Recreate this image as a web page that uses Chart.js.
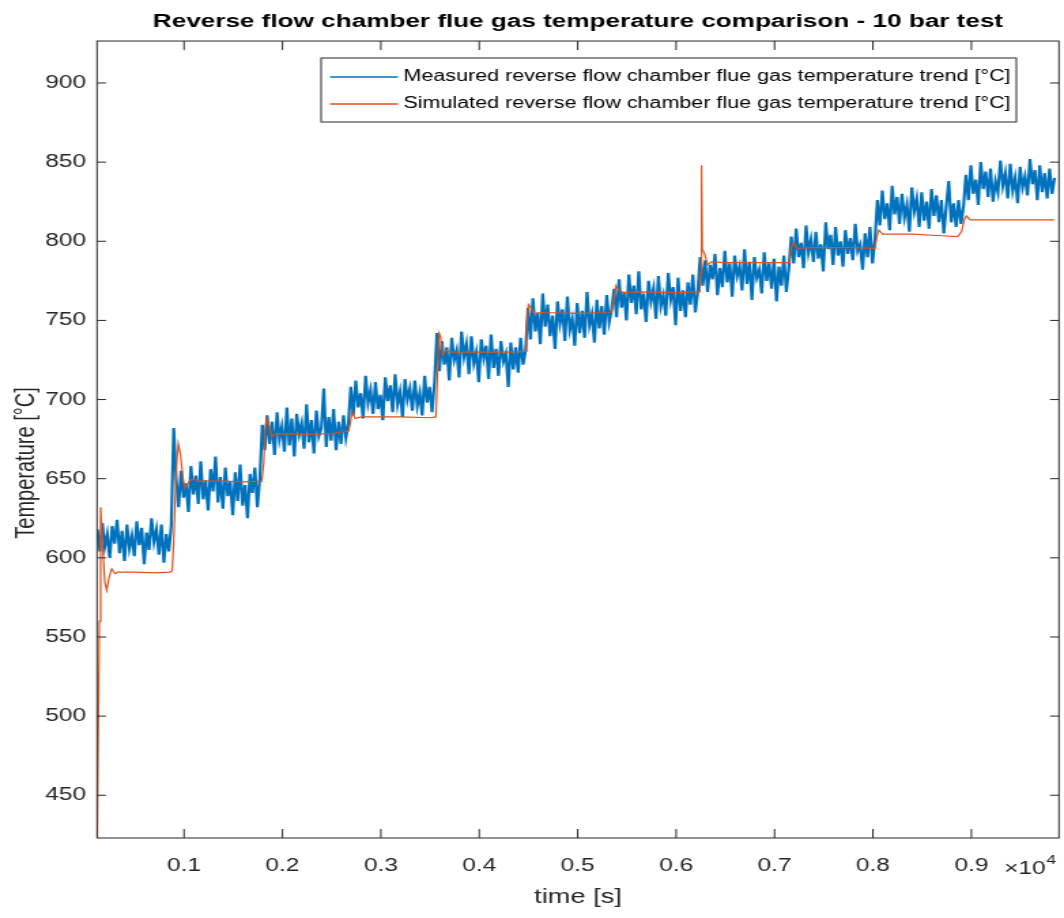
<!DOCTYPE html>
<html lang="en">
<head>
<meta charset="UTF-8">
<title>Reverse flow chamber flue gas temperature comparison</title>
<script src="https://cdn.jsdelivr.net/npm/chart.js@4.4.0/dist/chart.umd.min.js"></script>
<style>
    html, body { margin: 0; padding: 0; background: #fff; overflow: hidden; }
    /* the reference figure is stretched horizontally, so draw narrow and stretch */
    #plot { display: block; transform-origin: 0 0; transform: scaleX(1.3606); }
</style>
</head>
<body>
<canvas id="plot" width="782" height="918"></canvas>
<script>
// ---- data (time in s, temperature in degC) ----
const xTickValues = [1000, 2000, 3000, 4000, 5000, 6000, 7000, 8000, 9000];
const yTickValues = [450, 500, 550, 600, 650, 700, 750, 800, 850, 900];

// measured trend, one sample every 25 s starting at 120 s
const measuredStart = 120;
const measuredStep = 25;
const measuredTemp = [
    // ~612 level
    618, 604, 622, 607, 615, 600, 620, 609, 624, 603, 617, 598, 621, 606, 614, 601,
    623, 608, 619, 596, 616, 605, 625, 610, 618, 602, 621, 597, 615, 604, 620,
    682,
    // ~644 level
    650, 632, 655, 638, 647, 629, 658, 640, 652, 634, 661, 637, 649, 630, 656, 642,
    664, 635, 651, 631, 657, 639, 648, 627, 654, 636, 659, 633, 646, 625, 653, 641,
    657, 632, 650,
    // ~680 level
    684, 668, 690, 672, 686, 665, 692, 675, 683, 667, 695, 671, 688, 664, 691, 678,
    685, 669, 697, 673, 687, 666, 693, 677, 682, 707, 670, 689, 674, 694, 668, 686,
    672, 690, 676, 685,
    // ~701 level
    708, 690, 712, 695, 704, 688, 715, 698, 706, 691, 711, 694, 703, 687, 714, 699,
    709, 692, 716, 697, 705, 689, 713, 700, 707, 693, 712, 696, 704, 690, 715, 698,
    708, 692, 711,
    // ~728 level
    742, 718, 737, 722, 733, 712, 739, 725, 731, 714, 743, 727, 735, 716, 740, 723,
    730, 711, 738, 726, 734, 713, 741, 720, 732, 715, 737, 724, 729, 708, 736, 719,
    733, 717, 739, 722, 731,
    // ~750 level
    758, 738, 764, 743, 755, 735, 767, 746, 760, 740, 753, 732, 762, 748, 757, 737,
    765, 744, 751, 734, 761, 742, 756, 739, 768, 747, 754, 736, 763, 745, 759, 741,
    766, 749, 757,
    // ~764 level
    770, 752, 776, 758, 768, 750, 779, 761, 772, 754, 781, 757, 767, 749, 775, 762,
    770, 751, 778, 759, 766, 753, 780, 763, 771, 747, 777, 756, 769, 752, 774, 760,
    779, 755, 768,
    // ~780 level
    790, 772, 788, 768, 785, 776, 792, 766, 783, 771, 794, 774, 786, 765, 791, 778,
    784, 769, 795, 773, 787, 763, 790, 777, 782, 767, 793, 775, 786, 770, 789, 762,
    784, 772, 791, 768, 783,
    // ~796 level
    803, 786, 808, 790, 799, 783, 810, 793, 801, 787, 806, 789, 798, 781, 812, 795,
    804, 785, 809, 791, 800, 784, 807, 792, 802, 788, 811, 794, 798, 782, 805, 790,
    809, 786, 801,
    // ~821 level
    826, 810, 832, 814, 824, 807, 835, 817, 828, 811, 830, 815, 823, 806, 834, 819,
    827, 809, 831, 813, 825, 808, 833, 816, 829, 812, 826, 805, 822,
    838, 812, 824, 809, 826, 811, 822,
    // ~836 level
    842, 826, 848, 830, 839, 823, 850, 833, 844, 828, 846, 825, 838, 831, 851, 835,
    843, 827, 849, 832, 840, 824, 847, 834, 841, 829, 852, 836, 845, 826, 848, 831,
    843, 827, 846, 830, 840
];

// simulated trend
const simTime = [
    116, 140, 153, 170, 195, 214, 240, 265, 300, 329, 500, 700, 860, 880, 895, 920,
    942, 965, 990, 1010, 1050, 1091, 1150, 1400, 1600, 1790, 1810, 1825, 1840, 1865, 1891, 1930,
    2200, 2500, 2600, 2670, 2690, 2707, 2740, 2800, 3200, 3500, 3560, 3575, 3590, 3605, 3630, 3660,
    3720, 4000, 4300, 4470, 4480, 4500, 4525, 4560, 4620, 5000, 5340, 5360, 5390, 5420, 5470, 5600,
    6000, 6240, 6250, 6258, 6266, 6290, 6320, 6360, 6500, 7000, 7150, 7170, 7190, 7230, 7400, 7800,
    8020, 8040, 8060, 8100, 8400, 8700, 8860, 8900, 8930, 8950, 8990, 9200, 9842
];
const simTemp = [
    405, 560, 632, 610, 585, 579.5, 588, 593, 590, 591, 591, 590.5, 591, 592, 610, 655,
    672, 665, 650, 644, 648, 650, 648.5, 648.5, 648, 648.5, 660, 682, 688, 683, 676.5, 678.5,
    678, 678.5, 679.5, 680, 685, 692, 688, 689, 689, 688.5, 689, 715, 742, 740, 728, 731,
    730, 730, 730, 730.5, 745, 760, 758, 754, 755, 754.5, 755, 760, 772, 769, 767.5, 768,
    767.5, 768, 780, 848, 795, 792, 785, 787, 786.5, 786.5, 786.5, 796, 799, 795.5, 796, 796,
    795.5, 803, 807, 804.5, 804.5, 803.5, 803, 806, 814, 816, 813.5, 813.5, 813.5
];

const seriesNames = [
    'Measured reverse flow chamber flue gas temperature trend [°C]',
    'Simulated reverse flow chamber flue gas temperature trend [°C]'
];

const measuredPoints = measuredTemp.map((v, i) => ({ x: measuredStart + i * measuredStep, y: v }));
const simPoints = simTime.map((t, i) => ({ x: t, y: simTemp[i] }));

const axisColor = '#262626';
const fontFamily = '"Liberation Sans", Arial, Helvetica, sans-serif';

// draws the closed axes box with inward ticks on all four sides
const boxPlugin = {
    id: 'boxPlugin',
    afterDraw(chart) {
        const { ctx, chartArea: a, scales: { x, y } } = chart;
        ctx.save();
        ctx.strokeStyle = axisColor;
        ctx.lineWidth = 1;
        ctx.strokeRect(a.left, a.top, a.right - a.left, a.bottom - a.top);
        ctx.beginPath();
        x.ticks.forEach(t => {
            const px = x.getPixelForValue(t.value);
            ctx.moveTo(px, a.bottom); ctx.lineTo(px, a.bottom - 9);
            ctx.moveTo(px, a.top); ctx.lineTo(px, a.top + 9);
        });
        y.ticks.forEach(t => {
            const py = y.getPixelForValue(t.value);
            ctx.moveTo(a.left, py); ctx.lineTo(a.left + 6.6, py);
            ctx.moveTo(a.right, py); ctx.lineTo(a.right - 6.6, py);
        });
        ctx.stroke();

        // y axis label, sits a little below the middle of the axis in the reference
        ctx.fillStyle = axisColor;
        ctx.font = '20px ' + fontFamily;
        ctx.textAlign = 'center';
        ctx.textBaseline = 'middle';
        ctx.translate(19.8, 463);
        ctx.rotate(-Math.PI / 2);
        ctx.fillText('Temperature [°C]', 0, 0);
        ctx.setTransform(1, 0, 0, 1, 0, 0);

        // x10^4 exponent label
        ctx.textBaseline = 'alphabetic';
        ctx.textAlign = 'left';
        ctx.font = '18px ' + fontFamily;
        ctx.fillText('\u00d710', 738, 874);
        const w = ctx.measureText('\u00d710').width;
        ctx.font = '13px ' + fontFamily;
        ctx.fillText('4', 738 + w + 0.5, 864);
        ctx.restore();
    }
};

// legend box inside the axes, top right
const legendPlugin = {
    id: 'legendBox',
    afterDraw(chart, args, o) {
        const ctx = chart.ctx;
        ctx.save();
        ctx.fillStyle = '#fff';
        ctx.fillRect(o.left, o.top, o.right - o.left, o.bottom - o.top);
        ctx.strokeStyle = axisColor;
        ctx.lineWidth = 1;
        ctx.strokeRect(o.left, o.top, o.right - o.left, o.bottom - o.top);
        ctx.font = o.fontSize + 'px ' + fontFamily;
        ctx.textBaseline = 'middle';
        ctx.textAlign = 'left';
        chart.data.datasets.forEach((ds, i) => {
            const ry = o.rows[i];
            ctx.strokeStyle = ds.borderColor;
            ctx.lineWidth = 1.3;
            ctx.beginPath();
            ctx.moveTo(o.lineX0, ry); ctx.lineTo(o.lineX1, ry);
            ctx.stroke();
            ctx.fillStyle = '#000';
            ctx.fillText(ds.label, o.textX, ry);
        });
        ctx.restore();
    }
};

const config = {
    type: 'line',
    data: {
        datasets: [
            {
                label: seriesNames[0],
                data: measuredPoints,
                borderColor: '#0072BD',
                borderWidth: 2.2,
                pointRadius: 0,
                tension: 0,
                order: 2
            },
            {
                label: seriesNames[1],
                data: simPoints,
                borderColor: '#D95319',
                borderWidth: 1.2,
                pointRadius: 0,
                tension: 0,
                order: 1
            }
        ]
    },
    options: {
        responsive: false,
        animation: false,
        events: [],
        layout: { padding: { left: 0, right: 3.7, top: 0, bottom: 0 } },
        plugins: {
            legend: { display: false },
            tooltip: { enabled: false },
            title: {
                display: true,
                fullSize: false,
                text: 'Reverse flow chamber flue gas temperature comparison - 10 bar test',
                color: '#000',
                font: { family: fontFamily, size: 19.2, weight: 'bold', lineHeight: 1.2 },
                padding: { top: 10.5, bottom: 7.5 }
            },
            legendBox: {
                left: 236, right: 747, top: 58, bottom: 122,
                rows: [77, 104], lineX0: 242.5, lineX1: 292.5, textX: 296.5, fontSize: 15.8
            }
        },
        scales: {
            x: {
                type: 'linear',
                min: 116,
                max: 9890,
                grid: { display: false, drawTicks: false },
                border: { display: false },
                afterFit: s => { s.height = 80; },
                afterBuildTicks: s => { s.ticks = xTickValues.map(v => ({ value: v })); },
                ticks: {
                    autoSkip: false,
                    maxRotation: 0,
                    padding: 17,
                    color: axisColor,
                    font: { family: fontFamily, size: 18 },
                    callback: v => (v / 10000).toFixed(1)
                },
                title: {
                    display: true,
                    text: 'time [s]',
                    color: axisColor,
                    font: { family: fontFamily, size: 20, lineHeight: 1.2 },
                    padding: { top: 0, bottom: 9 }
                }
            },
            y: {
                type: 'linear',
                min: 423,
                max: 926.5,
                grid: { display: false, drawTicks: false },
                border: { display: false },
                afterFit: s => { s.width = 71.3; },
                afterBuildTicks: s => { s.ticks = yTickValues.map(v => ({ value: v })); },
                ticks: {
                    padding: 8,
                    color: axisColor,
                    font: { family: fontFamily, size: 18 }
                },
                title: { display: false }
            }
        }
    },
    plugins: [boxPlugin, legendPlugin]
};

new Chart(document.getElementById('plot'), config);
</script>
</body>
</html>
